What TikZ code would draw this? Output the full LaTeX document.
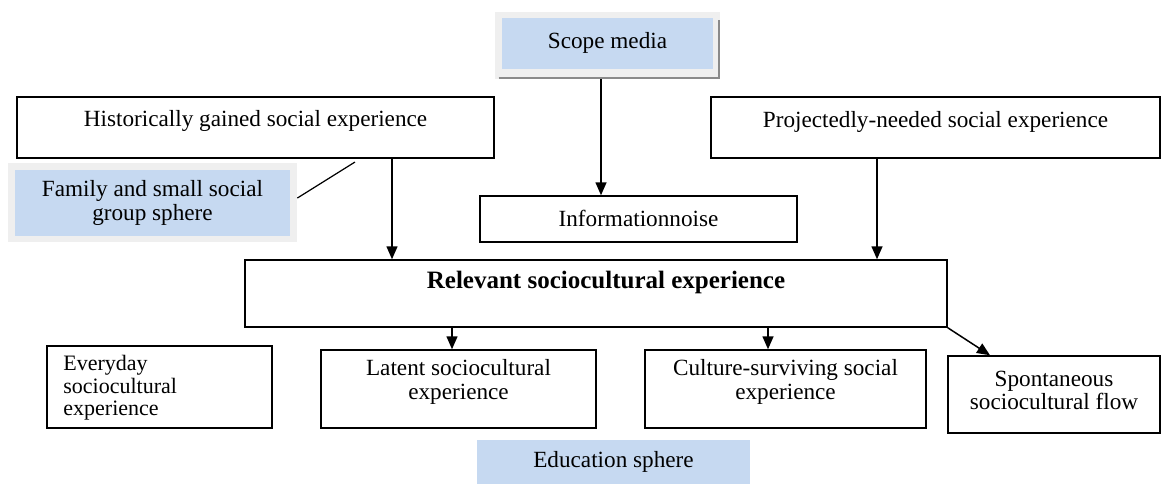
\documentclass[tikz,border=0pt]{standalone}
\usepackage{fontspec}
\setmainfont{Liberation Serif}
\usetikzlibrary{arrows.meta}
\definecolor{boxblue}{HTML}{C6D9F1}
\definecolor{framegray}{HTML}{EFEFEF}
\definecolor{shadowgray}{HTML}{8A8A8A}
\tikzset{
  box/.style={draw=black, line width=0.75pt, inner sep=0pt},
  bluebox/.style={fill=boxblue, draw=none, inner sep=0pt},
  graybox/.style={fill=framegray, draw=none, inner sep=0pt},
  txt/.style={inner sep=0pt, align=center, font=\fontsize{11.6}{11.6}\selectfont},
  arr/.style={line width=0.75pt, -{Triangle[length=6.5pt,width=5.5pt]}},
  ln/.style={line width=0.6pt}
}
\begin{document}
\begin{tikzpicture}[x=0.5pt,y=-0.5pt]
\useasboundingbox (0,0) rectangle (1161,484);
% Scope media
\node[graybox, minimum width=112.5pt, minimum height=33.5pt] (scopeOuter) at (607.5,45.5) {};
\draw[shadowgray, line width=1.3pt] ([xshift=2pt,yshift=0.65pt]scopeOuter.south west) -- ([xshift=-0.65pt,yshift=0.65pt]scopeOuter.south east) -- ([xshift=-0.65pt,yshift=-4pt]scopeOuter.north east);
\node[bluebox, minimum width=105.5pt, minimum height=25.5pt] (scope) at (607.5,43.5) {};
\node[txt] (scopeT) at (607.5,43) {Scope media};
% Historically
\node[box, minimum width=238.5pt, minimum height=30.5pt] (hist) at (255.5,127.5) {};
\node[txt] (histT) at (255.5,121) {Historically gained social experience};
% Projectedly
\node[box, minimum width=224.5pt, minimum height=30.5pt] (proj) at (935.5,127.5) {};
\node[txt] (projT) at (935.5,122) {Projectedly-needed social experience};
% Family
\node[graybox, minimum width=144.5pt, minimum height=39.5pt] (famOuter) at (152.5,202.5) {};
\node[bluebox, minimum width=137.5pt, minimum height=33pt] (fam) at (152.5,203) {};
\node[txt] (famT) at (152.5,203) {Family and small social\\group sphere};
\coordinate (famEnd) at (355,162);
\draw[ln] ([yshift=2.25pt]famOuter.east) -- (famEnd);
% Information noise
\node[box, minimum width=158.5pt, minimum height=23pt] (info) at (638.5,219) {};
\node[txt] (infoT) at (638.5,218) {Informationnoise};
% Relevant
\node[box, minimum width=351pt, minimum height=33.5pt] (rel) at (596,293.5) {};
\node[txt, font=\fontsize{12.5}{12.5}\selectfont\bfseries] (relT) at (606,282) {Relevant sociocultural experience};
% Bottom row
\node[box, minimum width=112.5pt, minimum height=41pt] (every) at (159.5,387) {};
\node[txt, align=left, anchor=west, font=\fontsize{11}{11.3}\selectfont] (everyT) at (63,388) {Everyday\\sociocultural\\experience};
\node[box, minimum width=137.5pt, minimum height=39pt] (latent) at (458.5,389) {};
\node[txt] (latentT) at (458.5,382) {Latent sociocultural\\experience};
\node[box, minimum width=140.5pt, minimum height=39pt] (cult) at (785.5,389) {};
\node[txt] (cultT) at (785.5,382) {Culture-surviving social\\experience};
\node[box, minimum width=106pt, minimum height=38.5pt] (spont) at (1054,394.5) {};
\node[txt] (spontT) at (1054,390.5) {Spontaneous\\sociocultural flow};
% Education
\node[bluebox, minimum width=136.5pt, minimum height=22pt] (edu) at (613.5,462) {};
\node[txt] (eduT) at (613.5,462) {Education sphere};
% Arrows
\draw[arr] ([xshift=-3.25pt]scopeOuter.south) -- ([xshift=-3.25pt]scopeOuter.south |- info.north);
\draw[arr] ([xshift=68.25pt]hist.south) -- ([xshift=68.25pt]hist.south |- rel.north);
\draw[arr] ([xshift=-29.25pt]proj.south) -- ([xshift=-29.25pt]proj.south |- rel.north);
\draw[arr] ([xshift=-72pt]rel.south) -- ([xshift=-72pt]rel.south |- latent.north);
\draw[arr] ([xshift=86pt]rel.south) -- ([xshift=86pt]rel.south |- cult.north);
\draw[arr] (rel.south east) -- ([xshift=-32pt]spont.north);
\end{tikzpicture}
\end{document}
